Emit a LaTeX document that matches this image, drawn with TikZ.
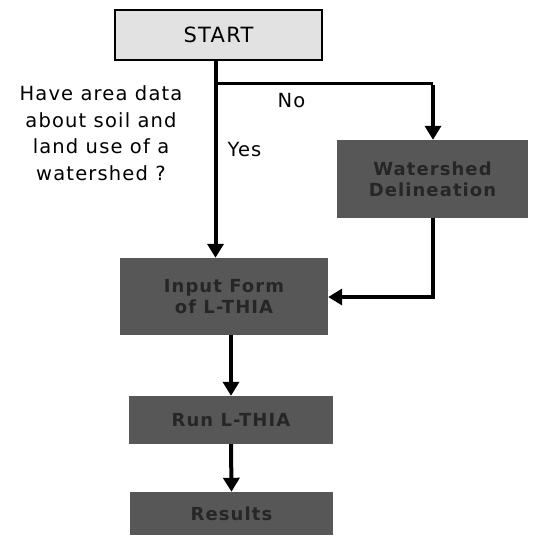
\documentclass[tikz,border=0pt]{standalone}
\usepackage{fontspec}
\setmainfont{DejaVu Sans}[LetterSpace=6]
\usetikzlibrary{arrows.meta}
\definecolor{lightbox}{HTML}{E2E2E2}
\definecolor{darkbox}{HTML}{575757}
\definecolor{darktext}{HTML}{262626}
\tikzset{
  startbox/.style={draw=black, line width=1.5pt, fill=lightbox, minimum width=207pt, minimum height=50pt, font=\fontsize{21}{21}\selectfont},
  procbox/.style={fill=darkbox, text=darktext, align=center, font=\fontsize{18}{21}\selectfont\bfseries},
  flow/.style={line width=4pt, -{Triangle[length=14pt,width=16pt]}},
  plain/.style={line width=4pt},
  lbl/.style={font=\fontsize{19.5}{26.5}\selectfont, align=center}
}
\begin{document}
\begin{tikzpicture}[x=1pt,y=-1pt]
\useasboundingbox (0,0) rectangle (540,539);
\node[startbox] (start) at (218.5,35) {START};
\node[procbox, minimum width=191pt, minimum height=78pt] (ws) at (432.5,179) {Watershed\\Delineation};
\node[procbox, minimum width=208pt, minimum height=77pt] (inp) at (224,296.5) {Input Form\\of L-THIA};
\node[procbox, minimum width=204pt, minimum height=48pt] (run) at (231,420) {Run L-THIA};
\node[procbox, minimum width=203pt, minimum height=43pt] (res) at (231.5,513.5) {Results};
\coordinate (split) at (215.5,83);
\coordinate (wscorner) at (433,83);
\coordinate (backcorner) at (433,297);
\draw[plain] (start.south -| split) -- (split);
\draw[flow] (split) -- (inp.north -| split);
\draw[line width=3pt] (split) -- (wscorner);
\draw[flow] ([yshift=-1.5pt]wscorner) -- (ws.north -| wscorner);
\draw[plain] (ws.south -| backcorner) -- ([yshift=2pt]backcorner);
\draw[flow] ([xshift=2pt]backcorner) -- (inp.east |- backcorner);
\draw[flow] (inp.south -| run.north) -- (run.north);
\draw[flow] (run.south) -- (res.north);
\node[lbl] (q) at (101,133) {Have area data\\about soil and\\land use of a\\watershed ?};
\node[lbl, anchor=west] (yes) at (224,150) {Yes};
\node[lbl, anchor=west] (no) at (274,101) {No};
\end{tikzpicture}
\end{document}
